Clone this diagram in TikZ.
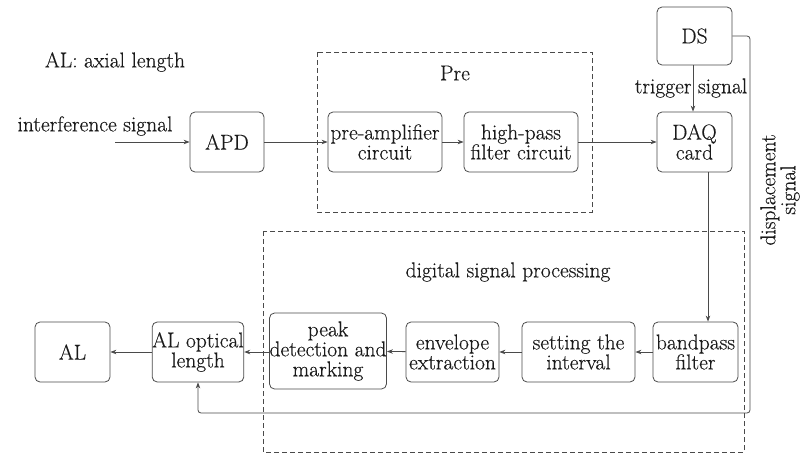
\documentclass[tikz,border=0pt]{standalone}
\usepackage{fontspec}
\newfontfamily\dfont{Latin Modern Roman}[FakeBold=0.35]
\usetikzlibrary{arrows.meta,positioning,calc}
\definecolor{ln}{HTML}{4A4A4A}
\definecolor{tx}{HTML}{1A1A1A}
\begin{document}
\begin{tikzpicture}[x=1pt,y=-1pt,
  every node/.style={text=tx,font=\dfont\fontsize{21.5}{20}\selectfont},
  blk/.style={draw=ln,line width=0.8pt,rounded corners=5pt,inner sep=0pt,align=center,minimum height=60pt},
  grp/.style={draw=ln,line width=0.8pt,dashed,dash pattern=on 5pt off 3pt},
  arr/.style={draw=ln,line width=0.8pt,-{Stealth[length=6pt,width=4.5pt]}},
  lbl/.style={inner sep=0pt,align=center}]
\useasboundingbox (0,0) rectangle (803,455);
% group frames
\draw[grp] (317,52) rectangle (592,212);
\draw[grp] (263,231) rectangle (744,452);
\node[lbl] (pre) at (455,73) {Pre};
\node[lbl] (dsp) at (508,272) {digital signal processing};
\node[lbl] (legend) at (115,62) {AL: axial length};
\node[lbl] (intf) at (95,126) {interference signal};
\coordinate (in) at (115,142);
% top row
\node[blk,minimum width=74pt] (apd) at (227,142) {APD};
\node[blk,minimum width=114pt] (preamp) at (385,142) {pre-amplifier\\circuit};
\node[blk,minimum width=114pt] (hp) at (521,142) {high-pass\\filter circuit};
\node[blk,minimum width=75pt] (daq) at (694.5,142) {DAQ\\card};
\node[blk,minimum width=75pt,minimum height=58pt] (ds) at (694.5,36) {DS};
% bottom row
\node[blk,minimum width=85pt] (bp) at (695.5,352) {bandpass\\filter};
\node[blk,minimum width=113pt] (set) at (578.5,352) {setting the\\interval};
\node[blk,minimum width=93pt] (env) at (452.5,352) {envelope\\extraction};
\node[blk,minimum width=114pt,minimum height=76pt] (peak) at (328,351) {peak\\detection and\\marking};
\node[blk,minimum width=86pt] (alo) at (198,352) {AL optical\\length};
\node[blk,minimum width=75pt] (al) at (72.5,352) {AL};
% labels
\node[lbl] (trig) at (691,88) {trigger signal};
\node[lbl,rotate=90] (disp) at (780,190) {displacement\\signal};
% connectors
\draw[arr] (in) -- (apd.west);
\draw[arr] (apd) -- (preamp);
\draw[arr] (preamp) -- (hp);
\draw[arr] (hp) -- (daq);
\draw[arr] (ds.south -| 693,0) -- (daq.north -| 693,0);
\draw[arr] (daq.south -| 708,0) -- (bp.north -| 708,0);
\draw[arr] (bp) -- (set);
\draw[arr] (set) -- (env);
\draw[arr] (env) -- (peak);
\draw[arr] (peak.west |- alo.east) -- (alo.east);
\draw[arr] (alo) -- (al);
\draw[arr,rounded corners=3pt] (ds.east) -- (750,36) -- (750,413) -- (198,413) -- (alo.south);
\end{tikzpicture}
\end{document}
